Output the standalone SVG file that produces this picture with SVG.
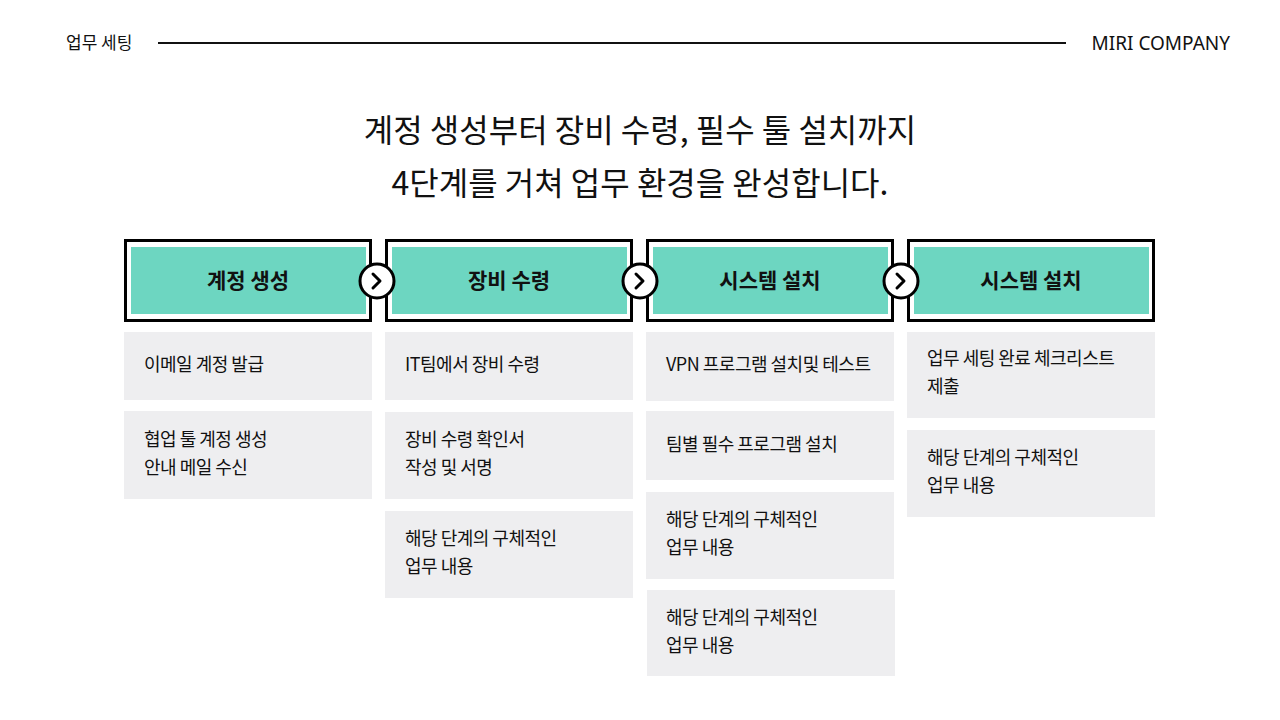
<svg xmlns="http://www.w3.org/2000/svg" width="1280" height="720" viewBox="0 0 1280 720">
<style>
text{font-family:"Noto Sans CJK KR","Noto Sans",sans-serif;fill:#111}
.hdr{fill:#000}.hin{fill:#6dd6c1}
.ht{font-size:21px;font-weight:700;text-anchor:middle}
.card{fill:#eeeef0}
.ct{font-size:18px;letter-spacing:-0.5px}
.arr circle{fill:#fff;stroke:#000;stroke-width:3}
.arr path{fill:none;stroke:#000;stroke-width:3;stroke-linecap:round;stroke-linejoin:round}
</style>
<rect width="1280" height="720" fill="#fff"/>
<text x="66" y="49" style="font-size:17px">업무 세팅</text>
<line x1="158" y1="43" x2="1066" y2="43" stroke="#111" stroke-width="2"/>
<text x="1230" y="50" text-anchor="end" style="font-size:19px;font-family:'Noto Sans','Liberation Sans',sans-serif">MIRI COMPANY</text>
<text x="640" y="142" text-anchor="middle" style="font-size:32px">계정 생성부터 장비 수령, 필수 툴 설치까지</text>
<text x="640" y="195" text-anchor="middle" style="font-size:32px">4단계를 거쳐 업무 환경을 완성합니다.</text>

<g id="step1"><rect class="hdr" x="124" y="239" width="248" height="83"/><rect fill="#fff" x="127" y="242" width="242" height="77"/><rect class="hin" x="131" y="247" width="235" height="67"/><text class="ht" x="248" y="288">계정 생성</text></g>
<g id="step2"><rect class="hdr" x="385" y="239" width="248" height="83"/><rect fill="#fff" x="388" y="242" width="242" height="77"/><rect class="hin" x="392" y="247" width="235" height="67"/><text class="ht" x="509" y="288">장비 수령</text></g>
<g id="step3"><rect class="hdr" x="646" y="239" width="248" height="83"/><rect fill="#fff" x="649" y="242" width="242" height="77"/><rect class="hin" x="653" y="247" width="235" height="67"/><text class="ht" x="770" y="288">시스템 설치</text></g>
<g id="step4"><rect class="hdr" x="907" y="239" width="248" height="83"/><rect fill="#fff" x="910" y="242" width="242" height="77"/><rect class="hin" x="914" y="247" width="235" height="67"/><text class="ht" x="1031" y="288">시스템 설치</text></g>

<g id="connectors">
<g class="arr"><circle cx="377" cy="281" r="17"/><path d="M373 274 L380 281 L373 288"/></g>
<g class="arr"><circle cx="640" cy="281" r="17"/><path d="M636 274 L643 281 L636 288"/></g>
<g class="arr"><circle cx="901" cy="281" r="17"/><path d="M897 274 L904 281 L897 288"/></g>
</g>

<g id="c1a"><rect class="card" x="124" y="332" width="248" height="68"/><text class="ct" x="144" y="371">이메일 계정 발급</text></g>
<g id="c1b"><rect class="card" x="124" y="411" width="248" height="88"/><text class="ct" x="144" y="446">협업 툴 계정 생성</text><text class="ct" x="144" y="474">안내 메일 수신</text></g>

<g id="c2a"><rect class="card" x="385" y="332" width="248" height="68"/><text class="ct" x="405" y="371">IT팀에서 장비 수령</text></g>
<g id="c2b"><rect class="card" x="385" y="412" width="248" height="87"/><text class="ct" x="405" y="446">장비 수령 확인서</text><text class="ct" x="405" y="474">작성 및 서명</text></g>
<g id="c2c"><rect class="card" x="385" y="511" width="248" height="87"/><text class="ct" x="405" y="545">해당 단계의 구체적인</text><text class="ct" x="405" y="573">업무 내용</text></g>

<g id="c3a"><rect class="card" x="646" y="332" width="248" height="69"/><text class="ct" x="666" y="371">VPN 프로그램 설치및 테스트</text></g>
<g id="c3b"><rect class="card" x="646" y="411" width="248" height="69"/><text class="ct" x="666" y="451">팀별 필수 프로그램 설치</text></g>
<g id="c3c"><rect class="card" x="646" y="492" width="248" height="87"/><text class="ct" x="666" y="526">해당 단계의 구체적인</text><text class="ct" x="666" y="554">업무 내용</text></g>
<g id="c3d"><rect class="card" x="647" y="590" width="248" height="86"/><text class="ct" x="666" y="624">해당 단계의 구체적인</text><text class="ct" x="666" y="652">업무 내용</text></g>

<g id="c4a"><rect class="card" x="907" y="332" width="248" height="86"/><text class="ct" x="927" y="365">업무 세팅 완료 체크리스트</text><text class="ct" x="927" y="393">제출</text></g>
<g id="c4b"><rect class="card" x="907" y="430" width="248" height="87"/><text class="ct" x="927" y="464">해당 단계의 구체적인</text><text class="ct" x="927" y="492">업무 내용</text></g>
</svg>
